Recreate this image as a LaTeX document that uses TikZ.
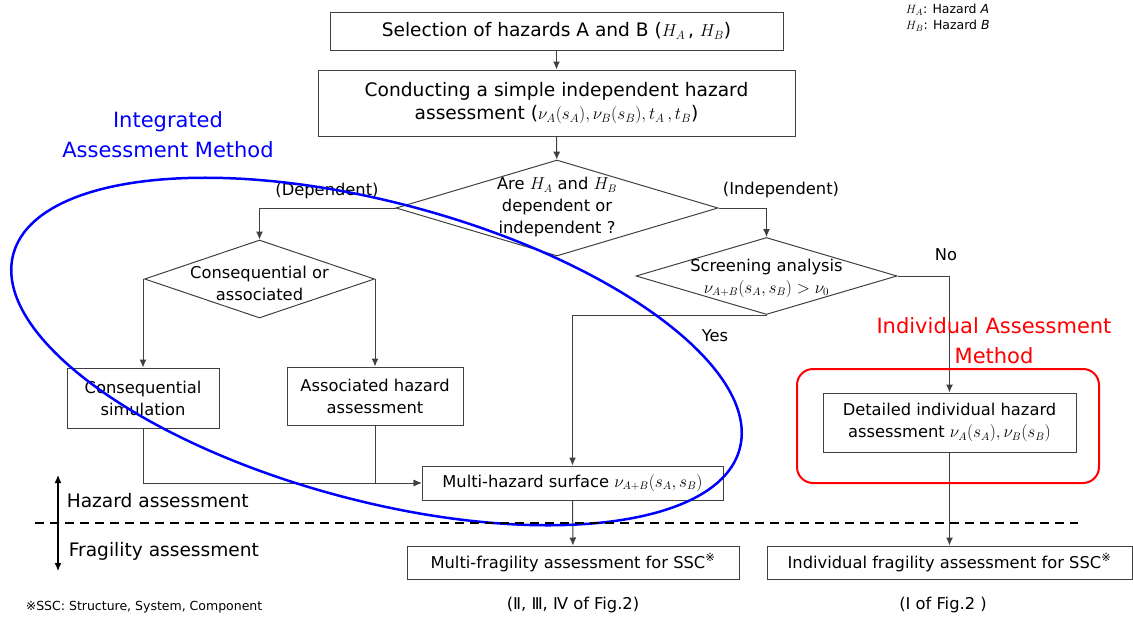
\documentclass[tikz,border=0pt]{standalone}
\usepackage{fontspec}
\setmainfont{DejaVu Sans}
\usetikzlibrary{shapes.geometric,arrows.meta}
\newcommand{\bigtxt}{\fontsize{18.6}{23}\selectfont}
\newcommand{\midtxt}{\fontsize{16.3}{22}\selectfont}
\newcommand{\smalltxt}{\fontsize{12.5}{16}\selectfont}
\newcommand{\titletxt}{\fontsize{21}{30}\selectfont}
\begin{document}
\begin{tikzpicture}[x = 1pt, y = -1pt, line width = 1pt,
	box/.style = {draw = black!75, align = center, inner sep = 0pt},
	decision/.style = {draw = black!75, diamond, inner sep = 0pt},
	flow/.style = {-{Latex[length = 8pt, width = 7pt]}, black!75}]
	\useasboundingbox (0,0) rectangle (1133,621);
	% main column
	\node [box, minimum width = 453, minimum height = 38, font = \bigtxt] (sel) at (556.5,31) {Selection of hazards A and B ($H_A\,$, $H_B$)};
	\node [box, minimum width = 477, minimum height = 66, font = \bigtxt] (cond) at (556.5,103) {Conducting a simple independent hazard\\assessment ($\nu_A(s_A), \nu_B(s_B), t_A\,, t_B$)};
	\node [decision, minimum width = 322, minimum height = 96] (dep) at (557,208) {};
	\node [font = \midtxt, align = center] (deptxt) at (557,207) {Are $H_A$ and $H_B$\\dependent or\\independent ?};
	% dependent branch
	\node [decision, minimum width = 230, minimum height = 78] (kind) at (259.5,279) {};
	\node [font = \midtxt, align = center] (kindtxt) at (259.5,283) {Consequential or\\associated};
	\node [box, minimum width = 152, minimum height = 60, font = \midtxt] (cons) at (143,398) {Consequential\\simulation};
	\node [box, minimum width = 176, minimum height = 58, font = \midtxt] (assoc) at (375,396) {Associated hazard\\assessment};
	% independent branch
	\node [decision, minimum width = 261, minimum height = 77] (screen) at (766.5,276) {};
	\node [font = \midtxt, align = center] (screentxt) at (766.5,278) {Screening analysis\\$\nu_{A+B}(s_A,s_B) > \nu_0$};
	\node [box, minimum width = 301, minimum height = 34, font = \midtxt] (surf) at (572.5,483) {Multi-hazard surface $\nu_{A+B}(s_A,s_B)$};
	\node [box, minimum width = 253, minimum height = 59, font = \midtxt] (detail) at (949.5,422.5) {Detailed individual hazard\\assessment $\nu_A(s_A), \nu_B(s_B)$};
	\node [box, minimum width = 332, minimum height = 33, font = \midtxt] (mfrag) at (573,562.5) {Multi-fragility assessment for SSC\textsuperscript{※}};
	\node [box, minimum width = 365, minimum height = 33, font = \midtxt] (ifrag) at (949.5,562.5) {Individual fragility assessment for SSC\textsuperscript{※}};
	% connectors
	\draw [flow] (sel) -- (cond);
	\draw [flow] (cond) -- (dep);
	\draw [flow] (dep.west) -| (kind.north);
	\draw [flow] (dep.east) -| (screen.north);
	\draw [flow] (kind.west) -| (cons.north);
	\draw [flow] (kind.east) -| (assoc.north);
	\draw [flow] (cons.south) |- (surf.west);
	\draw [flow] (assoc.south) |- (surf.west);
	\draw [flow] (screen.south) -| (surf.north);
	\draw [flow] (screen.east) -| (detail.north);
	\draw [flow] (surf) -- (mfrag);
	\draw [flow] (detail) -- (ifrag);
	\node [font = \midtxt] (deplbl) at (327,191) {(Dependent)};
	\node [font = \midtxt] (indlbl) at (781,190) {(Independent)};
	\node [font = \midtxt] (yes) at (715,336) {Yes};
	\node [font = \midtxt] (no) at (946,255) {No};
	% method groups
	\draw [blue, line width = 2.5, rotate around = {-15:(376.5,351.5)}] (376.5,351.5) ellipse (376 and 149);
	\node [blue, font = \titletxt, align = center] (integ) at (168,135) {Integrated\\Assessment Method};
	\draw [red, line width = 2, rounded corners = 16] (797,369) rectangle (1099,483);
	\node [red, font = \titletxt, align = center] (indiv) at (994,341) {Individual Assessment\\Method};
	% hazard / fragility split
	\draw [dashed, dash pattern = on 9pt off 6pt, line width = 1.3] (35,523) coordinate (split) -- (1078,523) coordinate (splitend);
	\draw [{Latex[length = 8pt, width = 7pt]}-{Latex[length = 8pt, width = 7pt]}, line width = 1.3] (58,475) coordinate (uptip) -- (58,571) coordinate (downtip);
	\node [font = \bigtxt, anchor = west] (hazlbl) at (63,501) {Hazard assessment};
	\node [font = \bigtxt, anchor = west] (fraglbl) at (65,551) {Fragility assessment};
	% notes
	\node [font = \midtxt] (figmulti) at (573,605) {(Ⅱ, Ⅲ, Ⅳ of Fig.2)};
	\node [font = \midtxt] (figindiv) at (943,605) {(Ⅰ of Fig.2 )};
	\node [font = \smalltxt, anchor = west] (ssc) at (22,607) {※SSC: Structure, System, Component};
	\node [font = \smalltxt, anchor = west, align = left] (legend) at (902,18) {$H_A$: Hazard \textit{A}\\$H_B$: Hazard \textit{B}};
\end{tikzpicture}
\end{document}
